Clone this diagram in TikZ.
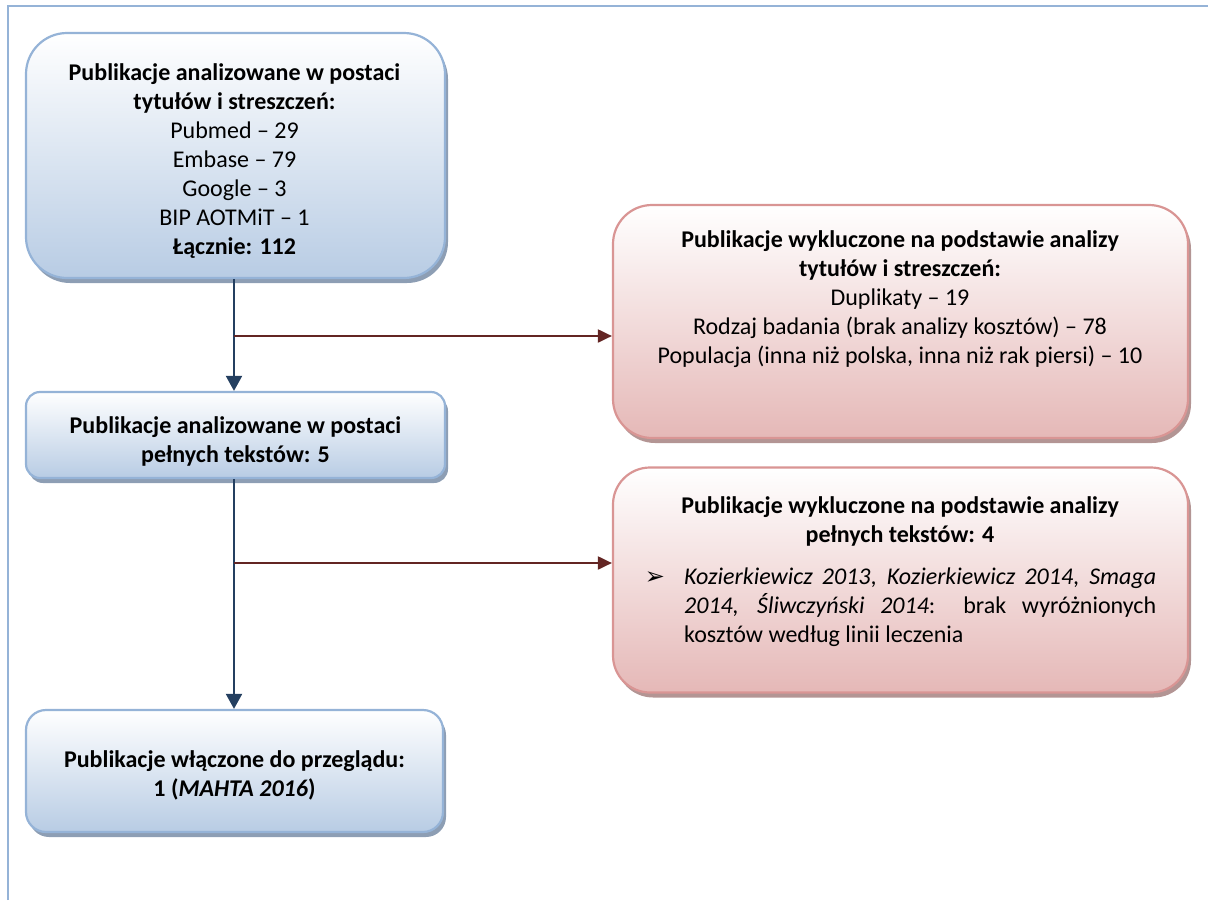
\documentclass[tikz,border=0pt]{standalone}
\usepackage{fontspec}
\setmainfont{Carlito}
\newfontfamily\symfont{DejaVu Sans}
\usetikzlibrary{arrows.meta,shadows,calc}

\definecolor{bluedge}{HTML}{95B3D7}
\definecolor{bluelow}{HTML}{B8CCE4}
\definecolor{blueshadow}{HTML}{8D9EB4}
\definecolor{pinkedge}{HTML}{D99594}
\definecolor{pinklow}{HTML}{E5B8B7}
\definecolor{pinkshadow}{HTML}{B39594}
\definecolor{navyline}{HTML}{243F60}
\definecolor{redline}{HTML}{632523}

\tikzset{
  bluebox/.style={draw=bluedge, line width=2.2pt, top color=white, bottom color=bluelow,
    general shadow={shadow xshift=3pt, shadow yshift=-5pt, fill=blueshadow},
    rectangle, inner sep=0pt},
  pinkbox/.style={draw=pinkedge, line width=2.2pt, top color=white, bottom color=pinklow,
    general shadow={shadow xshift=3pt, shadow yshift=-5pt, fill=pinkshadow},
    rectangle, inner sep=0pt},
  boxtext/.style={align=center, inner sep=0pt, font=\fontsize{24}{29}\selectfont},
  flowline/.style={draw=navyline, line width=2pt},
  flowarrow/.style={flowline, -{Triangle[width=16pt,length=15pt]}},
  exclarrow/.style={draw=redline, line width=2pt, -{Triangle[width=13pt,length=14pt]}},
}

\begin{document}
\begin{tikzpicture}[x=1pt, y=-1pt]
  \useasboundingbox (0,0) rectangle (1208,900);

  % page frame
  \draw[bluedge, line width=2pt] (8,900) -- (8,6) -- (1208,6);

  % boxes
  \node[bluebox, minimum width=419pt, minimum height=245pt, rounded corners=41pt] (b1) at (235.5,155.5) {};
  \node[pinkbox, minimum width=575pt, minimum height=233pt, rounded corners=39pt] (x1) at (900.5,321.5) {};
  \node[bluebox, minimum width=419pt, minimum height=86pt, rounded corners=14pt] (b2) at (235.5,435) {};
  \node[pinkbox, minimum width=575pt, minimum height=225pt, rounded corners=37pt] (x2) at (900.5,580) {};
  \node[bluebox, minimum width=417pt, minimum height=122pt, rounded corners=20pt] (b3) at (234.5,771) {};

  % texts
  \node[boxtext] (t1) at (234.5,161) {\textbf{Publikacje analizowane w postaci}\\
    \textbf{tytułów i streszczeń:}\\ Pubmed – 29\\ Embase – 79\\ Google – 3\\
    BIP AOTMiT – 1\\ \textbf{Łącznie: 112}};
  \node[boxtext] (t2) at (900,299.5) {\textbf{Publikacje wykluczone na podstawie analizy}\\
    \textbf{tytułów i streszczeń:}\\ Duplikaty – 19\\
    Rodzaj badania (brak analizy kosztów) – 78\\
    Populacja (inna niż polska, inna niż rak piersi) – 10};
  \node[boxtext] (t3) at (235.5,441.5) {\textbf{Publikacje analizowane w postaci}\\
    \textbf{pełnych tekstów: 5}};
  \node[boxtext] (t4) at (900,521) {\textbf{Publikacje wykluczone na podstawie analizy}\\
    \textbf{pełnych tekstów: 4}};
  \node[inner sep=0pt, font=\symfont\fontsize{24}{24}\selectfont] (bul) at (655,578) {➢};
  \node[anchor=west, inner sep=0pt, text width=472pt, align=justify,
        font=\fontsize{24}{29}\selectfont] (t5) at (684,607)
    {\textit{Kozierkiewicz 2013}, \textit{Kozierkiewicz 2014}, \textit{Smaga}\linebreak
     \textit{2014, Śliwczyński 2014}: brak wyróżnionych\linebreak
     kosztów według linii leczenia};
  \node[boxtext] (t6) at (234.5,775.5) {\textbf{Publikacje włączone do przeglądu:}\\
    \textbf{1 (\textit{MAHTA 2016})}};

  % connectors
  \coordinate (spine) at (234,0);
  \coordinate (j1) at (234,336);
  \coordinate (j2) at (234,563);
  \draw[flowarrow] (b1.south -| spine) -- (b2.north -| spine);
  \draw[flowarrow] (b2.south -| spine) -- (b3.north -| spine);
  \draw[exclarrow] (j1) -- (j1 -| x1.west);
  \draw[exclarrow] (j2) -- (j2 -| x2.west);
\end{tikzpicture}
\end{document}
